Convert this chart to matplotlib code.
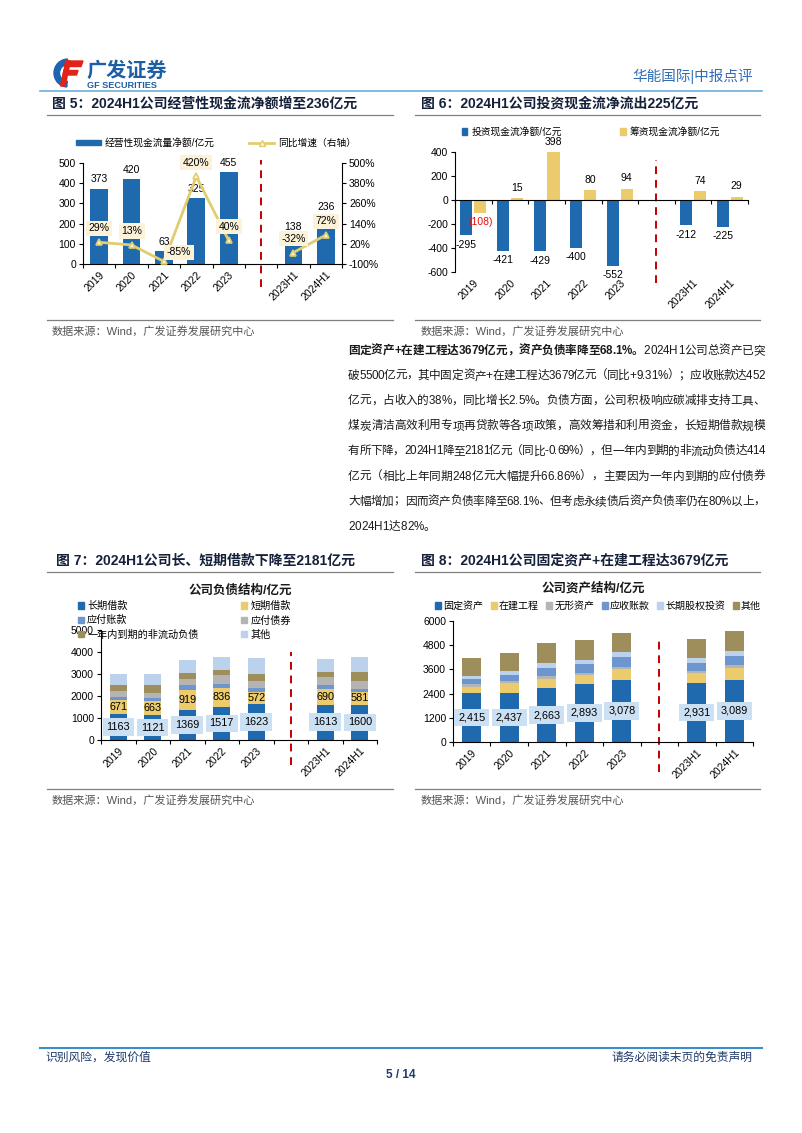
#coding=utf-8
"""
华能国际 中报点评 第5页：现金流、负债结构、资产结构
"""
import numpy as np
import matplotlib
matplotlib.use("Agg")
import matplotlib.pyplot as plt
from matplotlib.patches import Patch, Wedge, Polygon
from matplotlib.lines import Line2D

plt.rcParams['font.family'] = ['Liberation Sans', 'Noto Sans CJK SC', 'DejaVu Sans']
plt.rcParams['axes.unicode_minus'] = False

nan = np.nan
#类别
cats = ['2019', '2020', '2021', '2022', '2023', '', '2023H1', '2024H1']
#图5 经营性现金流
op_cf = [373, 420, 63, 325, 455, nan, 138, 236]
op_yoy = [29, 13, -85, 420, 40, nan, -32, 72]
#图6 投资/筹资现金流
inv_cf = [-295, -421, -429, -400, -552, nan, -212, -225]
fin_cf = [-108, 15, 398, 80, 94, nan, 74, 29]
#图7 负债结构
debt_long = [1163, 1121, 1369, 1517, 1623, nan, 1613, 1600]
debt_short = [671, 663, 919, 836, 572, nan, 690, 581]
debt_ap = [130, 140, 200, 200, 180, nan, 197, 152]
debt_bond = [272, 226, 300, 410, 300, nan, 348, 333]
debt_cur = [258, 350, 260, 212, 333, nan, 248, 414]
debt_other = [485, 485, 607, 590, 697, nan, 590, 682]
#图8 资产结构
asset_fixed = [2415, 2437, 2663, 2893, 3078, nan, 2931, 3089]
asset_cip = [321, 465, 471, 407, 521, nan, 469, 590]
asset_intang = [130, 133, 133, 133, 133, nan, 100, 150]
asset_ar = [250, 265, 381, 431, 498, nan, 441, 452]
asset_lti = [180, 232, 249, 199, 215, nan, 240, 232]
asset_other = [846, 862, 995, 978, 978, nan, 940, 995]

W, H = 802, 1133
BLUE = '#1F6AAE'
YEL = '#EBCB6B'
MBLUE = '#6E96CE'
GRAY = '#B4B4B4'
OLIVE = '#9E8E5C'
LBLUE = '#BCD1EB'
LINEC = '#E2CD6E'
RED = '#C00000'
NAVY = '#15203A'
SRC = '#555555'

fig = plt.figure(figsize=(W / 100, H / 100), dpi=100)


def fx(x):
    return x / W


def fy(y):
    return 1 - y / H


def axes_px(x0, y0, x1, y1):
    return fig.add_axes([fx(x0), fy(y1), (x1 - x0) / W, (y1 - y0) / H])


def hline(x0, x1, y, color, lw):
    fig.add_artist(Line2D([fx(x0), fx(x1)], [fy(y), fy(y)], color=color, lw=lw))


def ftext(x, y, s, **kw):
    return fig.text(fx(x), fy(y), s, **kw)


def base_axis(ax, ylim, yticks):
    ax.set_xlim(-0.5, len(cats) - 0.5)
    ax.set_ylim(*ylim)
    ax.set_yticks(yticks)
    ax.set_xticks(np.arange(len(cats)))
    ax.set_xticklabels(cats, rotation=45, ha='right', rotation_mode='anchor', fontsize=7.5)
    ax.set_xticks(np.arange(len(cats) + 1) - 0.5, minor=True)
    ax.tick_params(axis='x', which='major', length=0, pad=4)
    ax.tick_params(axis='x', which='minor', length=3, width=0.8)
    ax.tick_params(axis='y', labelsize=7.5, length=3, width=0.8, pad=2)
    for s in ['top', 'right']:
        ax.spines[s].set_visible(False)
    for s in ['left', 'bottom']:
        ax.spines[s].set_linewidth(0.8)


def gap_line(ax, ymin, ymax):
    ax.axvline(cats.index(''), ymin=ymin, ymax=ymax, color=RED, lw=1.4,
               ls=(0, (4, 3)), clip_on=False)


#---------------- 页眉 ----------------
lax = fig.add_axes([fx(44), fy(90), 42 / W, 36 / H])
lax.set_xlim(44, 86)
lax.set_ylim(90, 54)
lax.axis('off')
lax.add_patch(Wedge((68, 73), 14, 95, 268, width=5.5, color='#1E64B0'))
lax.add_patch(Polygon([(66, 61), (83, 61), (81, 66.5), (64.5, 66.5)], color='#E2231A'))
lax.add_patch(Polygon([(64, 70.5), (78, 70.5), (76.5, 75), (63, 75)], color='#E2231A'))
lax.add_patch(Polygon([(66, 61), (70.5, 61), (65, 86), (60.5, 86)], color='#E2231A'))
ftext(86, 71, '广发证券', fontsize=14.5, fontweight='bold', color='#1D5FA6', va='center')
ftext(87, 85.5, 'GF SECURITIES', fontsize=6.6, fontweight='bold', color='#1D5FA6', va='center')
ftext(753, 76, '华能国际|中报点评', fontsize=10.5, color='#2F6DB5', ha='right', va='center')
hline(40, 762, 91, '#6AAEDC', 1.2)

#---------------- 图5 ----------------
ftext(52, 104, '图 5：2024H1公司经营性现金流净额增至236亿元', fontsize=10, fontweight='bold',
      color=NAVY, va='center')
hline(47, 393, 115, '#7F7F7F', 0.9)
x = np.arange(len(cats))
ax5 = axes_px(83, 163, 342, 264)
ax5.bar(x, op_cf, width=0.55, color=BLUE, zorder=2)
base_axis(ax5, (0, 500), range(0, 501, 100))
for i, v in enumerate(op_cf):
    if not np.isnan(v):
        ax5.annotate(f'{v:.0f}', (i, v), xytext=(0, 3), textcoords='offset points',
                     ha='center', va='bottom', fontsize=7.5)
ax5t = ax5.twinx()
ax5t.plot(x, op_yoy, color=LINEC, lw=2, marker='^', ms=5, mfc='#FFF6D8', mec=LINEC, mew=1.2)
ax5t.set_ylim(-100, 500)
ax5t.set_yticks(range(-100, 501, 120))
ax5t.yaxis.set_major_formatter(lambda v, p: f'{v:.0f}%')
ax5t.tick_params(axis='y', labelsize=7.5, length=3, width=0.8, pad=2)
ax5t.spines['top'].set_visible(False)
ax5t.spines['right'].set_linewidth(0.8)
ax5t.spines['left'].set_visible(False)
ax5t.spines['bottom'].set_visible(False)
yoy_off = {2: (11, 6.5)}
for i, v in enumerate(op_yoy):
    if not np.isnan(v):
        ax5t.annotate(f'{v:.0f}%', (i, v), xytext=yoy_off.get(i, (0, 10)),
                      textcoords='offset points', ha='center', va='center', fontsize=7.5,
                      bbox=dict(boxstyle='square,pad=0.25', fc='#FCF2DA', ec='none'))
gap_line(ax5, -0.23, 1.03)
fig.legend(handles=[Patch(color=BLUE),
                    Line2D([], [], color=LINEC, lw=2, marker='^', ms=5, mfc='#FFF6D8', mec=LINEC)],
           labels=['经营性现金流量净额/亿元', '同比增速（右轴）'], loc='center',
           bbox_to_anchor=(fx(216), fy(143)), ncol=2, frameon=False, fontsize=7,
           handlelength=2.6, handleheight=0.55, handletextpad=0.4, columnspacing=3.5,
           borderpad=0, borderaxespad=0)
hline(47, 393, 320, '#7F7F7F', 0.9)
ftext(52, 331, '数据来源：Wind，广发证券发展研究中心', fontsize=8, color=SRC, va='center')

#---------------- 图6 ----------------
ftext(421, 104, '图 6：2024H1公司投资现金流净流出225亿元', fontsize=10, fontweight='bold',
      color=NAVY, va='center')
hline(415, 760, 115, '#7F7F7F', 0.9)
ax6 = axes_px(455, 152, 748, 272)
ax6.bar(x - 0.19, inv_cf, width=0.33, color=BLUE, zorder=2)
ax6.bar(x + 0.19, fin_cf, width=0.33, color=YEL, zorder=2)
base_axis(ax6, (-600, 400), range(-600, 401, 200))
ax6.spines['bottom'].set_position(('data', 0))
ax6.tick_params(axis='x', which='major', labelbottom=False)
lab6 = ax6.secondary_xaxis('bottom')
lab6.set_xticks(x)
lab6.set_xticklabels(cats, rotation=45, ha='right', rotation_mode='anchor', fontsize=7.5)
lab6.tick_params(length=0, pad=4)
lab6.spines['bottom'].set_visible(False)
lab6.spines['top'].set_visible(False)
for i, v in enumerate(inv_cf):
    if not np.isnan(v):
        ax6.annotate(f'{v:.0f}', (i - 0.19, v), xytext=(0, -3), textcoords='offset points',
                     ha='center', va='top', fontsize=7.5)
for i, v in enumerate(fin_cf):
    if np.isnan(v):
        continue
    if v < 0:
        ax6.annotate(f'({-v:.0f})', (i + 0.19, v), xytext=(0, -3), textcoords='offset points',
                     ha='center', va='top', fontsize=7.5, color='#E01010')
    else:
        ax6.annotate(f'{v:.0f}', (i + 0.19, v), xytext=(0, 4), textcoords='offset points',
                     ha='center', va='bottom', fontsize=7.5)
gap_line(ax6, -0.09, 0.93)
fig.legend(handles=[Patch(color=BLUE), Patch(color=YEL)],
           labels=['投资现金流净额/亿元', '筹资现金流净额/亿元'], loc='center',
           bbox_to_anchor=(fx(591), fy(132)), ncol=2, frameon=False, fontsize=7,
           handlelength=0.6, handleheight=0.6, handletextpad=0.4, columnspacing=6,
           borderpad=0, borderaxespad=0)
hline(415, 760, 320, '#7F7F7F', 0.9)
ftext(421, 331, '数据来源：Wind，广发证券发展研究中心', fontsize=8, color=SRC, va='center')

#---------------- 正文 ----------------
para_bold = '固定资产+在建工程达3679亿元，资产负债率降至68.1%。'
para_lines = [
    '2024H1公司总资产已突',
    '破5500亿元，其中固定资产+在建工程达3679亿元（同比+9.31%）；应收账款达452',
    '亿元，占收入的38%，同比增长2.5%。负债方面，公司积极响应碳减排支持工具、',
    '煤炭清洁高效利用专项再贷款等各项政策，高效筹措和利用资金，长短期借款规模',
    '有所下降，2024H1降至2181亿元（同比-0.69%），但一年内到期的非流动负债达414',
    '亿元（相比上年同期248亿元大幅提升66.86%），主要因为一年内到期的应付债券',
    '大幅增加；因而资产负债率降至68.1%、但考虑永续债后资产负债率仍在80%以上，',
    '2024H1达82%。',
]
renderer = fig.canvas.get_renderer()


def put_justified(segs, x0, x1, y, justify=True):
    # segs: list of (text, weight); place char by char to fill x0..x1
    chars = []
    for s, wt in segs:
        for c in s:
            t = ftext(0, y, c, fontsize=8.4, fontweight=wt, color='#1A1A1A', va='center')
            w = t.get_window_extent(renderer).width
            chars.append((t, w))
    total = sum(w for _, w in chars)
    extra = (x1 - x0 - total) / (len(chars) - 1) if justify and len(chars) > 1 else 0
    cx = x0
    for t, w in chars:
        t.set_x(fx(cx))
        cx += w + extra


py = 351
for k, line in enumerate(para_lines):
    segs = [(para_bold, 'bold'), (line, 'normal')] if k == 0 else [(line, 'normal')]
    put_justified(segs, 348, 765, py + k * 25.1, justify=k < len(para_lines) - 1)

#---------------- 图7 ----------------
ftext(56, 561, '图 7：2024H1公司长、短期借款下降至2181亿元', fontsize=10, fontweight='bold',
      color=NAVY, va='center')
hline(47, 393, 572, '#7F7F7F', 0.9)
ftext(240, 591, '公司负债结构/亿元', fontsize=9, fontweight='bold', color='#1A1A1A',
      ha='center', va='center')
ax7 = axes_px(101, 630, 377, 740)
debt_series = [(debt_long, BLUE), (debt_short, YEL), (debt_ap, MBLUE), (debt_bond, GRAY),
               (debt_cur, OLIVE), (debt_other, LBLUE)]
bottom = np.zeros(len(cats))
for vals, col in debt_series:
    ax7.bar(x, vals, width=0.5, bottom=bottom, color=col, zorder=2)
    bottom = bottom + np.array(vals, dtype=float)
base_axis(ax7, (0, 5000), range(0, 5001, 1000))
for i in range(len(cats)):
    lv, sv = debt_long[i], debt_short[i]
    if np.isnan(lv):
        continue
    ax7.text(i, lv / 2, f'{lv:.0f}', ha='center', va='center', fontsize=7.8, zorder=4,
             bbox=dict(boxstyle='square,pad=0.35', fc='#CCE0F4', ec='none'))
    ax7.text(i, lv + sv / 2, f'{sv:.0f}', ha='center', va='center', fontsize=7.8, zorder=4)
gap_line(ax7, -0.23, 0.8)
fig.legend(handles=[Patch(color=BLUE), Patch(color=MBLUE), Patch(color=OLIVE),
                    Patch(color=YEL), Patch(color=GRAY), Patch(color=LBLUE)],
           labels=['长期借款', '应付账款', '一年内到期的非流动负债', '短期借款', '应付债券', '其他'],
           loc='upper left', bbox_to_anchor=(fx(78), fy(601)), ncol=2, frameon=False,
           fontsize=7.3, handlelength=0.6, handleheight=0.6, handletextpad=0.3,
           labelspacing=0.42, columnspacing=4.2, borderpad=0, borderaxespad=0)
hline(47, 393, 789, '#7F7F7F', 0.9)
ftext(52, 800, '数据来源：Wind，广发证券发展研究中心', fontsize=8, color=SRC, va='center')

#---------------- 图8 ----------------
ftext(421, 561, '图 8：2024H1公司固定资产+在建工程达3679亿元', fontsize=10, fontweight='bold',
      color=NAVY, va='center')
hline(415, 760, 572, '#7F7F7F', 0.9)
ftext(593, 588, '公司资产结构/亿元', fontsize=9, fontweight='bold', color='#1A1A1A',
      ha='center', va='center')
ax8 = axes_px(453, 621, 753, 742)
asset_series = [(asset_fixed, BLUE), (asset_cip, YEL), (asset_intang, GRAY), (asset_ar, MBLUE),
                (asset_lti, LBLUE), (asset_other, OLIVE)]
bottom = np.zeros(len(cats))
for vals, col in asset_series:
    ax8.bar(x, vals, width=0.5, bottom=bottom, color=col, zorder=2)
    bottom = bottom + np.array(vals, dtype=float)
base_axis(ax8, (0, 6000), range(0, 6001, 1200))
for i, v in enumerate(asset_fixed):
    if not np.isnan(v):
        ax8.text(i, v / 2, f'{v:,.0f}', ha='center', va='center', fontsize=7.8, zorder=4,
                 bbox=dict(boxstyle='square,pad=0.35', fc='#CCE0F4', ec='none'))
gap_line(ax8, -0.25, 0.88)
fig.legend(handles=[Patch(color=c) for _, c in asset_series],
           labels=['固定资产', '在建工程', '无形资产', '应收账款', '长期股权投资', '其他'],
           loc='center', bbox_to_anchor=(fx(598), fy(606)), ncol=6, frameon=False,
           fontsize=7.2, handlelength=0.6, handleheight=0.6, handletextpad=0.25,
           columnspacing=0.7, borderpad=0, borderaxespad=0)
hline(415, 760, 789, '#7F7F7F', 0.9)
ftext(421, 800, '数据来源：Wind，广发证券发展研究中心', fontsize=8, color=SRC, va='center')

#---------------- 页脚 ----------------
hline(40, 762, 1048, '#3A8FCB', 1.5)
ftext(45, 1058, '识别风险，发现价值', fontsize=8.5, color='#1F3A6B', va='center')
ftext(753, 1058, '请务必阅读末页的免责声明', fontsize=8.5, color='#1F3A6B', ha='right', va='center')
ftext(401, 1075, '5 / 14', fontsize=8.5, fontweight='bold', color='#1F3A6B', ha='center', va='center')

fig.savefig('out.png', dpi=100, facecolor='white')
